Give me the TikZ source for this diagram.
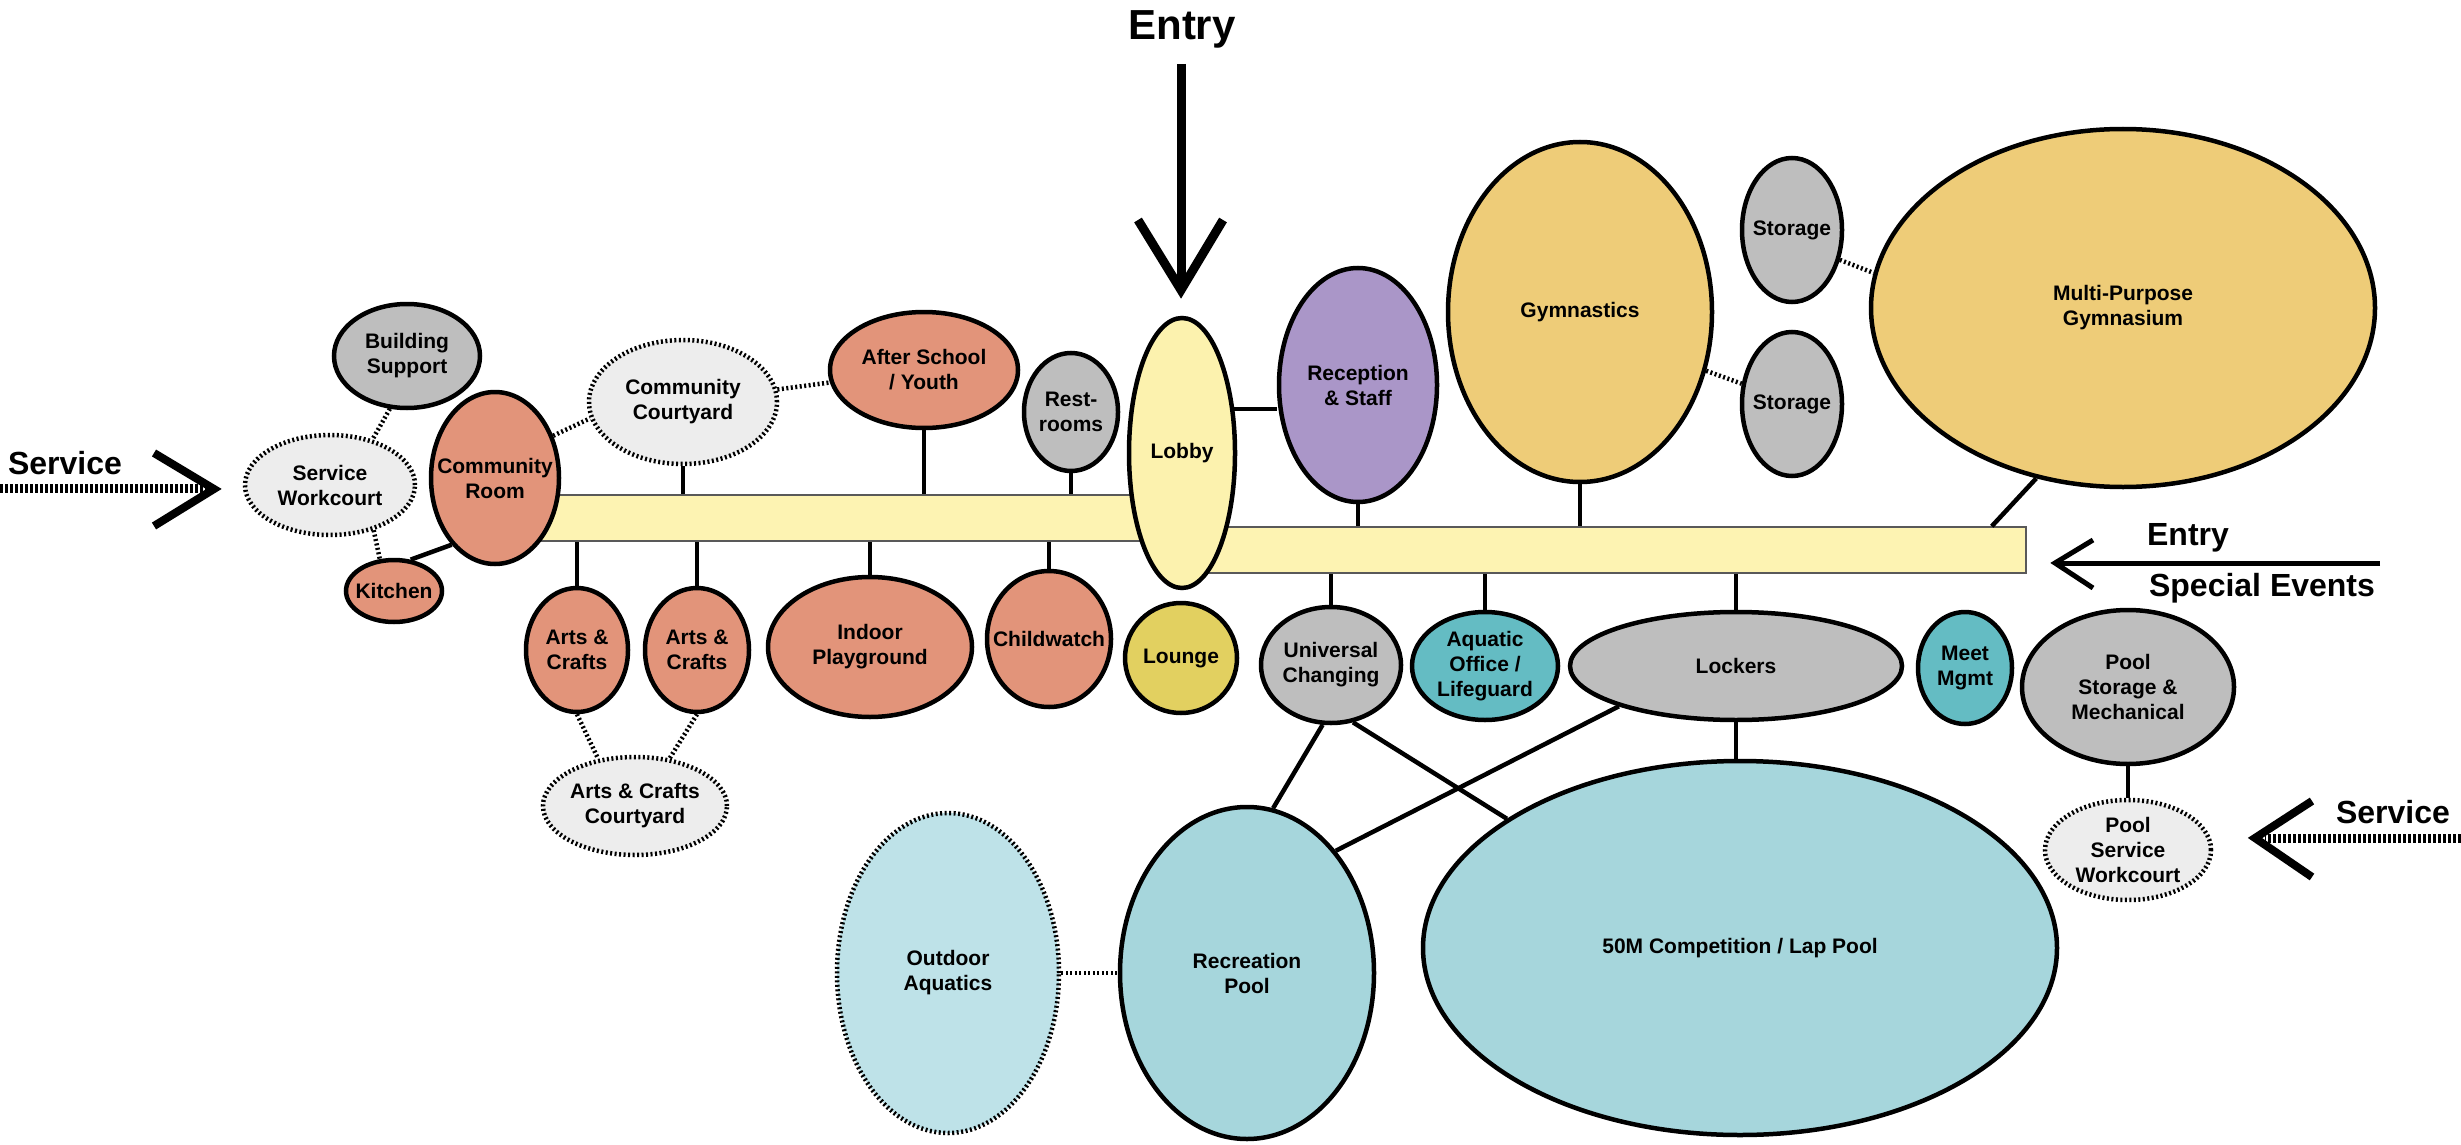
\documentclass[tikz,border=0pt]{standalone}
\usepackage{fontspec}
\setmainfont{Liberation Sans}
\usetikzlibrary{shapes.geometric,calc}
\definecolor{salmon}{HTML}{E2947A}
\definecolor{roomgray}{HTML}{BEBEBE}
\definecolor{courtgray}{HTML}{EDEDED}
\definecolor{corr}{HTML}{FDF3B2}
\definecolor{lobbyy}{HTML}{FCF2AE}
\definecolor{lounge}{HTML}{E2D060}
\definecolor{purple}{HTML}{AA96C8}
\definecolor{gold}{HTML}{EECC78}
\definecolor{teal}{HTML}{64BCC3}
\definecolor{pool}{HTML}{A6D6DC}
\definecolor{outdoor}{HTML}{BEE2E8}
\tikzset{
  room/.style={ellipse, draw=black, line width=4.5pt, inner sep=0pt},
  openroom/.style={room, dash pattern=on 2pt off 2.5pt, fill=courtgray},
  lbl/.style={font=\fontsize{21}{25}\selectfont\bfseries, align=center, inner sep=0pt, text=black},
  big/.style={font=\fontsize{32}{36}\selectfont\bfseries, inner sep=0pt},
  link/.style={line width=4.5pt},
  dlink/.style={line width=4.5pt, dash pattern=on 2pt off 2.5pt},
  corridor/.style={rectangle, draw=black!65, line width=1.5pt, fill=corr, inner sep=0pt},
  servline/.style={line width=9pt, dash pattern=on 3pt off 2pt},
  chev/.style={line width=8pt},
}
\newcommand\roomat[7]{%
  \node[#6, minimum width=#4pt, minimum height=#5pt] (#1) at (#2,#3) {};
  \node[lbl] (#1-t) at (#1.center) {#7};}
\begin{document}
\begin{tikzpicture}[x=1pt,y=-1pt]
\useasboundingbox (0,0) rectangle (2461,1145);
% corridors
\node[corridor, minimum width=630pt, minimum height=46pt] (corL) at (835,518) {};
\node[corridor, minimum width=841pt, minimum height=46pt] (corR) at (1605.5,550) {};
% rooms
\roomat{bs}{407}{356}{146}{104}{room, fill=roomgray}{Building\\Support}
\roomat{sw}{330}{485}{170}{100}{openroom}{Service\\Workcourt}
\roomat{cr}{495}{478}{128}{172}{room, fill=salmon}{Community\\Room}
\roomat{kit}{394}{591}{96}{62}{room, fill=salmon}{Kitchen}
\roomat{cc}{683}{402}{188}{124}{openroom}{Community\\Courtyard}
\roomat{as}{924}{370}{188}{116}{room, fill=salmon}{After School\\/ Youth}
\roomat{rr}{1071}{412}{94}{118}{room, fill=roomgray}{Rest-\\rooms}
\roomat{lobby}{1182}{453}{106}{270}{room, fill=lobbyy}{Lobby}
\roomat{rec}{1358}{385}{158}{234}{room, fill=purple}{Reception\\\& Staff}
\roomat{gym}{1580}{312}{264}{340}{room, fill=gold}{Gymnastics}
\roomat{sta}{1792}{230}{100}{144}{room, fill=roomgray}{Storage}
\roomat{stb}{1792}{404}{100}{144}{room, fill=roomgray}{Storage}
\roomat{mpg}{2123}{308}{504}{358}{room, fill=gold}{Multi-Purpose\\Gymnasium}
\roomat{aca}{577}{650}{102}{124}{room, fill=salmon}{Arts \&\\Crafts}
\roomat{acb}{697}{650}{104}{124}{room, fill=salmon}{Arts \&\\Crafts}
\roomat{ip}{870}{647}{204}{140}{room, fill=salmon}{Indoor\\Playground}
\roomat{cw}{1049}{639}{124}{136}{room, fill=salmon}{Childwatch}
\roomat{lng}{1181}{658}{112}{110}{room, fill=lounge}{Lounge}
\roomat{acc}{635}{806}{184}{98}{openroom}{Arts \& Crafts\\Courtyard}
\roomat{uc}{1331}{665}{140}{116}{room, fill=roomgray}{Universal\\Changing}
\roomat{ao}{1485}{666}{146}{108}{room, fill=teal}{Aquatic\\Office /\\Lifeguard}
\roomat{lk}{1736}{666}{332}{108}{room, fill=roomgray}{Lockers}
\roomat{mm}{1965}{668}{94}{112}{room, fill=teal}{Meet\\Mgmt}
\roomat{psm}{2128}{687}{212}{154}{room, fill=roomgray}{Pool\\Storage \&\\Mechanical}
\roomat{psw}{2128}{850}{166}{100}{openroom}{Pool\\Service\\Workcourt}
\roomat{oa}{948}{973}{222}{320}{openroom, fill=outdoor}{Outdoor\\Aquatics}
\roomat{rp}{1247}{973}{254}{332}{room, fill=pool}{Recreation\\Pool}
\roomat{pfifty}{1740}{948}{634}{374}{room, fill=pool}{50M Competition / Lap Pool}
% stems to corridors
\foreach \n in {cc,as,rr} \draw[link] (\n.south) -- (\n.south |- corL.north);
\foreach \n in {aca,acb,ip,cw} \draw[link] (\n.north) -- (\n.north |- corL.south);
\foreach \n in {rec,gym} \draw[link] (\n.south) -- (\n.south |- corR.north);
\foreach \n in {uc,ao,lk} \draw[link] (\n.north) -- (\n.north |- corR.south);
\draw[link] (mpg.243) -- ($(corR.north east)+(-35,0)$);
% solid links
\draw[link] (lobby.40) -- (lobby.40 -| rec.west);
\draw[link] (kit.62) -- (cr.237);
\draw[link] (lk.south) -- (lk.south |- pfifty.north);
\draw[link] (uc.262) -- (rp.81);
\draw[link] (uc.291) -- (pfifty.151);
\draw[link] (lk.199) -- (rp.54);
\draw[link] (psm.south) -- (psw.north);
% dotted links
\draw[dlink] (bs.252) -- (sw.47);
\draw[dlink] (sw.314) -- (kit.114);
\draw[dlink] (cr.36) -- (cc.190);
\draw[dlink] (cc) -- (as);
\draw[dlink] (aca.south) -- (acc.128);
\draw[dlink] (acb.south) -- (acc.54);
\draw[dlink] (oa.east) -- (rp.west);
\draw[dlink] (sta.328) -- (mpg.172);
\draw[dlink] (gym.335) -- (stb.158);
% entry from top
\node[font=\fontsize{42}{46}\selectfont\bfseries, inner sep=0pt] (entT) at (1182,29) {Entry};
\coordinate (eTop) at (1181,64);
\coordinate (eTip) at (1181,290);
\draw[line width=9pt] (eTop) -- (eTip);
\draw[line width=9pt] ($(eTip)+(-43,-70)$) -- (eTip) -- ($(eTip)+(42,-70)$);
% service left
\node[big] (svcLt) at (65,463) {Service};
\coordinate (sL0) at (0,488);
\coordinate (sL1) at (206,488);
\coordinate (sLtip) at (214,489);
\draw[servline] (sL0) -- (sL1);
\draw[chev] ($(sLtip)+(-60,-36)$) -- (sLtip) -- ($(sLtip)+(-60,37)$);
% service right
\node[big] (svcRt) at (2393,812) {Service};
\coordinate (sR0) at (2461,838);
\coordinate (sR1) at (2265,838);
\coordinate (sRtip) at (2255,838);
\draw[servline] (sR0) -- (sR1);
\draw[chev] ($(sRtip)+(57,-37)$) -- (sRtip) -- ($(sRtip)+(57,39)$);
% entry / special events right
\node[big] (entRt) at (2188,538) {Entry};
\node[big] (spev) at (2262,588) {Special Events};
\coordinate (eR0) at (2380,563);
\coordinate (eRtip) at (2055,563);
\draw[line width=5pt] (eR0) -- (eRtip);
\draw[line width=5pt] ($(eRtip)+(38,-23)$) -- (eRtip) -- ($(eRtip)+(38,25)$);
\end{tikzpicture}
\end{document}
